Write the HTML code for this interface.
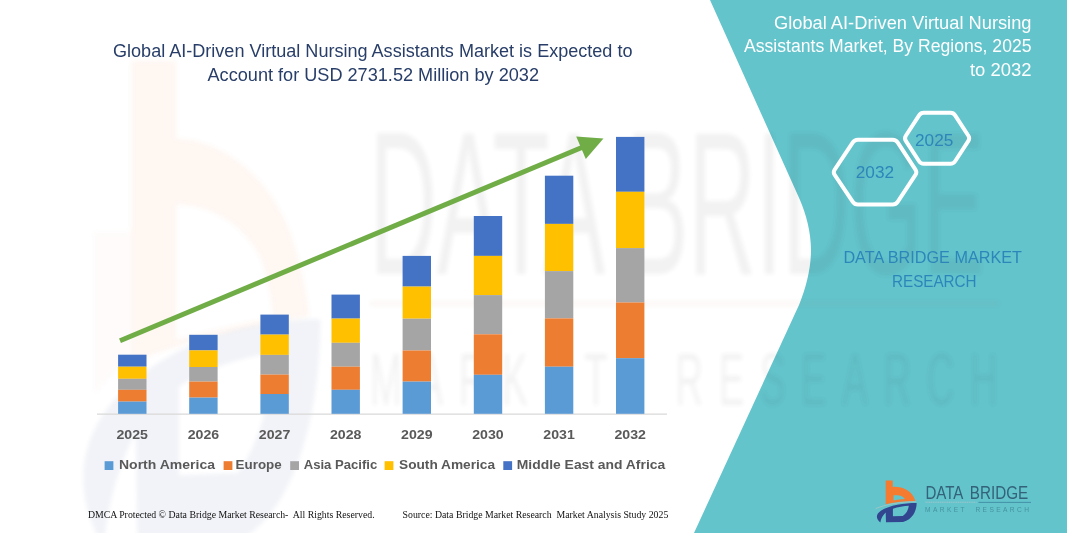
<!DOCTYPE html>
<html><head><meta charset="utf-8"><title>Global AI-Driven Virtual Nursing Assistants Market</title>
<style>
html,body{margin:0;padding:0;background:#fff;}
body{width:1067px;height:533px;overflow:hidden;font-family:"Liberation Sans",sans-serif;}
svg{display:block;position:absolute;left:0;top:0;}
text{font-family:"Liberation Sans",sans-serif;white-space:pre;}
.serif text, text.serif{font-family:"Liberation Serif",serif;}
</style></head>
<body>
<svg width="1067" height="533" viewBox="0 0 1067 533">
<defs>
<filter id="blur" x="-5%" y="-5%" width="110%" height="110%"><feGaussianBlur stdDeviation="0.35 0.2"/></filter>
<filter id="blur2" x="-10%" y="-10%" width="120%" height="120%"><feGaussianBlur stdDeviation="2.5"/></filter>

<g id="logomark" transform="translate(870,474) scale(0.1032)">
<path fill="#F47B30" fill-rule="evenodd" d="M152,62 L220,62 L220,125 C300,118 405,150 440,262 C350,262 250,272 152,292 Z M228,207 C280,200 325,215 338,243 C300,246 260,250 228,256 Z"/>
<path fill="#31468F" fill-rule="evenodd" d="M100,470 C55,430 55,390 105,355 C190,300 330,280 452,280 C452,360 410,440 320,464 L155,467 L152,374 C125,400 105,435 100,470 Z M222,336 C270,320 330,311 376,308 C372,350 350,386 318,408 L222,410 Z"/>
<path fill="none" stroke="#D8C6BC" stroke-width="7" d="M55,335 C150,295 300,268 445,268" opacity="0.7"/>
</g>


<g id="logotext">
<text x="925.4" y="499" font-size="17.6" fill="#33627A" textLength="38" lengthAdjust="spacingAndGlyphs">DATA</text>
<text x="969.8" y="499" font-size="17.6" fill="#33627A" textLength="58.4" lengthAdjust="spacingAndGlyphs">BRIDGE</text>
<line x1="978.5" y1="502.4" x2="1031" y2="502.4" stroke="#3F8CA3" stroke-width="0.9"/>
<line x1="925.5" y1="502.2" x2="976.5" y2="502.2" stroke="#CFC6CC" stroke-width="0.8" stroke-dasharray="1.2 0.6" opacity="0.8"/>
<text x="925" y="511.6" font-size="6.6" fill="#4593A1" textLength="104" lengthAdjust="spacing">MARKET  RESEARCH</text>
</g>

</defs>
<rect width="1067" height="533" fill="#ffffff"/>
<!-- teal panel -->
<path d="M710,0 L800,200 C806,214 811,232 811,250 C811,268 806,288 799,305 L694,533 L1067,533 L1067,0 Z" fill="#63C4CC"/>
<!-- watermark -->
<g opacity="0.065" filter="url(#blur2)">
<path fill="#F47B30" fill-rule="evenodd" d="M131.5,61 L176,61 L176,139 C215,139 262,168 287,225 C300,258 307,295 309,316 C250,325 190,340 131.5,362 Z M176,204 C212,205 243,224 260,256 C268,275 272,298 273,318 C240,324 205,332 176,340 Z"/>
<path fill="#E9A58A" d="M94,232 L131.5,232 L131.5,362 C118,368 105,380 94,396 Z" opacity="0.6"/>
</g>
<g opacity="0.065" filter="url(#blur)" transform="translate(370,127) scale(5.96,11.65) translate(-925,-486.4)">
<g transform="translate(870,474) scale(0.1032)">
<path fill="#31468F" fill-rule="evenodd" d="M100,470 C55,430 55,390 105,355 C190,300 330,280 452,280 C452,360 410,440 320,464 L155,467 L152,374 C125,400 105,435 100,470 Z M222,336 C270,320 330,311 376,308 C372,350 350,386 318,408 L222,410 Z"/>
</g>
<text x="924.9" y="499" font-size="17.6" fill="#3a3a3a" textLength="103.3" lengthAdjust="spacingAndGlyphs">DATA BRIDGE</text>
<line x1="925" y1="501.55" x2="1030.5" y2="501.55" stroke="#C07050" stroke-width="0.35"/>
<text x="925" y="510.25" font-size="6.4" fill="#3a3a3a" textLength="105.3" lengthAdjust="spacing">MARKET  RESEARCH</text>
</g>
<!-- axis -->
<line x1="97" y1="414.2" x2="667" y2="414.2" stroke="#D9D9D9" stroke-width="1.2"/>
<!-- bars -->
<rect x="118.1" y="354.7" width="28.4" height="12.0" fill="#4472C4"/>
<rect x="118.1" y="366.7" width="28.4" height="12.1" fill="#FFC000"/>
<rect x="118.1" y="378.8" width="28.4" height="11.0" fill="#A5A5A5"/>
<rect x="118.1" y="389.8" width="28.4" height="11.8" fill="#ED7D31"/>
<rect x="118.1" y="401.6" width="28.4" height="12.2" fill="#5B9BD5"/>
<rect x="189.2" y="334.8" width="28.4" height="15.6" fill="#4472C4"/>
<rect x="189.2" y="350.4" width="28.4" height="16.6" fill="#FFC000"/>
<rect x="189.2" y="367.0" width="28.4" height="14.6" fill="#A5A5A5"/>
<rect x="189.2" y="381.6" width="28.4" height="16.0" fill="#ED7D31"/>
<rect x="189.2" y="397.6" width="28.4" height="16.2" fill="#5B9BD5"/>
<rect x="260.4" y="314.6" width="28.4" height="20.0" fill="#4472C4"/>
<rect x="260.4" y="334.6" width="28.4" height="20.3" fill="#FFC000"/>
<rect x="260.4" y="354.9" width="28.4" height="19.7" fill="#A5A5A5"/>
<rect x="260.4" y="374.6" width="28.4" height="19.4" fill="#ED7D31"/>
<rect x="260.4" y="394.0" width="28.4" height="19.8" fill="#5B9BD5"/>
<rect x="331.5" y="294.6" width="28.4" height="24.0" fill="#4472C4"/>
<rect x="331.5" y="318.6" width="28.4" height="24.2" fill="#FFC000"/>
<rect x="331.5" y="342.8" width="28.4" height="23.9" fill="#A5A5A5"/>
<rect x="331.5" y="366.7" width="28.4" height="23.1" fill="#ED7D31"/>
<rect x="331.5" y="389.8" width="28.4" height="24.0" fill="#5B9BD5"/>
<rect x="402.6" y="255.9" width="28.4" height="30.7" fill="#4472C4"/>
<rect x="402.6" y="286.6" width="28.4" height="32.1" fill="#FFC000"/>
<rect x="402.6" y="318.7" width="28.4" height="31.8" fill="#A5A5A5"/>
<rect x="402.6" y="350.5" width="28.4" height="31.1" fill="#ED7D31"/>
<rect x="402.6" y="381.6" width="28.4" height="32.2" fill="#5B9BD5"/>
<rect x="473.8" y="216.0" width="28.4" height="39.9" fill="#4472C4"/>
<rect x="473.8" y="255.9" width="28.4" height="39.2" fill="#FFC000"/>
<rect x="473.8" y="295.1" width="28.4" height="39.2" fill="#A5A5A5"/>
<rect x="473.8" y="334.3" width="28.4" height="40.5" fill="#ED7D31"/>
<rect x="473.8" y="374.8" width="28.4" height="39.0" fill="#5B9BD5"/>
<rect x="544.9" y="175.7" width="28.4" height="48.2" fill="#4472C4"/>
<rect x="544.9" y="223.9" width="28.4" height="47.2" fill="#FFC000"/>
<rect x="544.9" y="271.1" width="28.4" height="47.3" fill="#A5A5A5"/>
<rect x="544.9" y="318.4" width="28.4" height="48.3" fill="#ED7D31"/>
<rect x="544.9" y="366.7" width="28.4" height="47.1" fill="#5B9BD5"/>
<rect x="616.0" y="136.9" width="28.4" height="54.9" fill="#4472C4"/>
<rect x="616.0" y="191.8" width="28.4" height="56.3" fill="#FFC000"/>
<rect x="616.0" y="248.1" width="28.4" height="54.4" fill="#A5A5A5"/>
<rect x="616.0" y="302.5" width="28.4" height="55.7" fill="#ED7D31"/>
<rect x="616.0" y="358.2" width="28.4" height="55.6" fill="#5B9BD5"/>
<!-- arrow -->
<line x1="120" y1="340.7" x2="583" y2="147" stroke="#70AD47" stroke-width="5"/>
<polygon points="603.5,138.6 576.2,136.6 585.8,159.1" fill="#70AD47"/>
<!-- year labels -->
<g font-size="13.6" font-weight="bold" fill="#595959">
<text x="116.5" y="438.6" textLength="31.5" lengthAdjust="spacingAndGlyphs">2025</text>
<text x="187.7" y="438.6" textLength="31.5" lengthAdjust="spacingAndGlyphs">2026</text>
<text x="258.8" y="438.6" textLength="31.5" lengthAdjust="spacingAndGlyphs">2027</text>
<text x="329.9" y="438.6" textLength="31.5" lengthAdjust="spacingAndGlyphs">2028</text>
<text x="401.1" y="438.6" textLength="31.5" lengthAdjust="spacingAndGlyphs">2029</text>
<text x="472.2" y="438.6" textLength="31.5" lengthAdjust="spacingAndGlyphs">2030</text>
<text x="543.3" y="438.6" textLength="31.5" lengthAdjust="spacingAndGlyphs">2031</text>
<text x="614.5" y="438.6" textLength="31.5" lengthAdjust="spacingAndGlyphs">2032</text>
</g>
<!-- legend -->
<g font-size="13.6" font-weight="bold" fill="#595959">
<rect x="104.6" y="461.2" width="8.8" height="8.8" fill="#5B9BD5"/>
<text x="119.0" y="469" textLength="96.0" lengthAdjust="spacingAndGlyphs">North America</text>
<rect x="223.6" y="461.2" width="8.8" height="8.8" fill="#ED7D31"/>
<text x="235.6" y="469" textLength="46.1" lengthAdjust="spacingAndGlyphs">Europe</text>
<rect x="290.2" y="461.2" width="8.8" height="8.8" fill="#A5A5A5"/>
<text x="303.7" y="469" textLength="73.6" lengthAdjust="spacingAndGlyphs">Asia Pacific</text>
<rect x="384.6" y="461.2" width="8.8" height="8.8" fill="#FFC000"/>
<text x="399.0" y="469" textLength="96.1" lengthAdjust="spacingAndGlyphs">South America</text>
<rect x="503.3" y="461.2" width="8.8" height="8.8" fill="#4472C4"/>
<text x="516.8" y="469" textLength="148.4" lengthAdjust="spacingAndGlyphs">Middle East and Africa</text>
</g>
<!-- titles -->
<g font-size="17.5" fill="#283E68">
<text x="113" y="56.8" textLength="519.5" lengthAdjust="spacingAndGlyphs">Global AI-Driven Virtual Nursing Assistants Market is Expected to</text>
<text x="207.5" y="80.6" textLength="331.5" lengthAdjust="spacingAndGlyphs">Account for USD 2731.52 Million by 2032</text>
</g>
<g font-size="17.5" fill="#ffffff">
<text x="774" y="28.6" textLength="257.5" lengthAdjust="spacingAndGlyphs">Global AI-Driven Virtual Nursing</text>
<text x="744" y="52" textLength="287.5" lengthAdjust="spacingAndGlyphs">Assistants Market, By Regions, 2025</text>
<text x="970" y="76" textLength="61.5" lengthAdjust="spacingAndGlyphs">to 2032</text>
</g>
<!-- hexagons -->
<g fill="none" stroke="#ffffff" stroke-width="4" stroke-linejoin="round">
<path d="M834.68,174.86 Q832.90,172.20 834.68,169.54 L852.82,142.46 Q854.60,139.80 857.80,139.80 L892.70,139.80 Q895.90,139.80 897.66,142.47 L915.44,169.53 Q917.20,172.20 915.44,174.87 L897.66,201.83 Q895.90,204.50 892.70,204.50 L857.80,204.50 Q854.60,204.50 852.82,201.84 Z"/>
<path d="M905.83,140.82 Q904.20,138.30 905.83,135.78 L919.07,115.32 Q920.70,112.80 923.70,112.80 L950.50,112.80 Q953.50,112.80 955.13,115.32 L968.37,135.78 Q970.00,138.30 968.37,140.82 L955.13,161.28 Q953.50,163.80 950.50,163.80 L923.70,163.80 Q920.70,163.80 919.07,161.28 Z"/>
</g>
<g font-size="17.3" fill="#2D86BA">
<text x="855.8" y="177.8" textLength="38.3" lengthAdjust="spacingAndGlyphs">2032</text>
<text x="915" y="145.7" textLength="38.3" lengthAdjust="spacingAndGlyphs">2025</text>
<text x="843.4" y="262.6" textLength="178.5" lengthAdjust="spacingAndGlyphs">DATA BRIDGE MARKET</text>
<text x="892" y="286.8" textLength="84.6" lengthAdjust="spacingAndGlyphs">RESEARCH</text>
</g>
<!-- logo -->
<use href="#logomark"/>
<use href="#logotext"/>
<!-- footer -->
<g font-size="10" fill="#111111" class="serif">
<text x="87.9" y="518.3" textLength="286.7" lengthAdjust="spacingAndGlyphs">DMCA Protected © Data Bridge Market Research-  All Rights Reserved.</text>
<text x="402.6" y="518.3" textLength="265.7" lengthAdjust="spacingAndGlyphs">Source: Data Bridge Market Research  Market Analysis Study 2025</text>
</g>
</svg>
</body></html>
